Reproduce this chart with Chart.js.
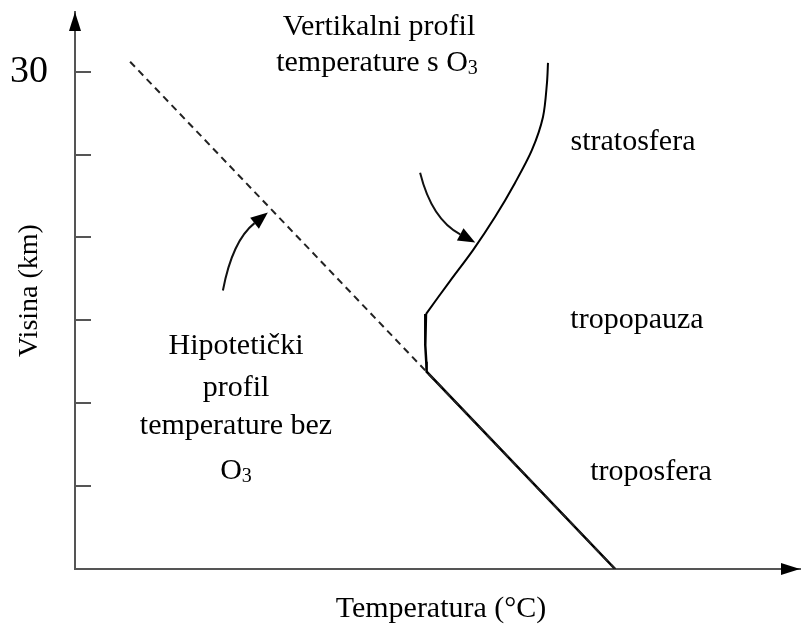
<!DOCTYPE html>
<html>
<head>
<meta charset="utf-8">
<script src="https://cdn.jsdelivr.net/npm/chart.js@4"></script>
<style>
  html, body { margin: 0; padding: 0; background: #fff; }
  #wrap { width: 801px; height: 626px; }
</style>
</head>
<body>
<div id="wrap"><canvas id="profileChart" width="801" height="626"></canvas></div>
<script>
// Podaci (procjena s originalne slike), x = temperatura (proizvoljne jedinice), y = visina (km)
const hypoTemp = [7.6, 74.5];
const hypoAlt = [30.6, 0];

const stratoTemp = [65.24, 65.1, 64.55, 63.03, 60.69, 57.93, 54.9, 51.72, 48.41];
const stratoAlt = [30.53, 29.33, 27.27, 25.28, 23.29, 21.23, 19.24, 17.37, 15.38];

const tropoTemp = [48.41, 48.28, 48.35, 48.45, 48.5, 74.5];
const tropoAlt = [15.38, 15.1, 13.5, 12.5, 11.9, 0];

const altTicks = [5, 10, 15, 20, 25, 30];
const altLabels = { 30: '30' };

const serif = '"Liberation Serif", "Times New Roman", serif';

function toPoints(xs, ys) {
    return xs.map((x, i) => ({ x: x, y: ys[i] }));
}

// Strelice (u koordinatama podataka) - rep, kontrolna tocka, vrh
const arrows = [
    [[20.4, 16.8], [21.7, 19.8], [26.6, 21.5]],
    [[47.6, 23.9], [49.2, 21.1], [55.2, 19.7]]
];

function drawText(ctx, parts, cx, baseline) {
    // parts: [tekst, jeSubscript]
    let total = 0;
    parts.forEach(p => {
        ctx.font = (p[1] ? '20px ' : '30px ') + serif;
        total += ctx.measureText(p[0]).width;
    });
    let x = cx - total / 2;
    ctx.textAlign = 'left';
    ctx.textBaseline = 'alphabetic';
    parts.forEach(p => {
        ctx.font = (p[1] ? '20px ' : '30px ') + serif;
        ctx.fillText(p[0], x, baseline + (p[1] ? 3 : 0));
        x += ctx.measureText(p[0]).width;
    });
}

const decorations = {
    id: 'decorations',
    afterDraw(chart) {
        const ctx = chart.ctx;
        const xs = chart.scales.x;
        const ys = chart.scales.y;
        const area = chart.chartArea;
        ctx.save();

        // kvacice na osi y (prema unutra)
        ctx.strokeStyle = '#555';
        ctx.lineWidth = 2;
        altTicks.forEach(v => {
            const py = Math.round(ys.getPixelForValue(v));
            ctx.beginPath();
            ctx.moveTo(area.left, py);
            ctx.lineTo(area.left + 16, py);
            ctx.stroke();
        });

        // vrhovi strelica na osima
        ctx.fillStyle = '#000';
        ctx.beginPath();
        ctx.moveTo(area.left, area.top);
        ctx.lineTo(area.left - 6, area.top + 19);
        ctx.lineTo(area.left + 6, area.top + 19);
        ctx.closePath();
        ctx.fill();
        ctx.beginPath();
        ctx.moveTo(area.right, area.bottom);
        ctx.lineTo(area.right - 19, area.bottom - 6);
        ctx.lineTo(area.right - 19, area.bottom + 6);
        ctx.closePath();
        ctx.fill();

        // zakrivljene strelice
        ctx.strokeStyle = '#111';
        ctx.lineWidth = 2;
        arrows.forEach(a => {
            const p = a.map(q => [xs.getPixelForValue(q[0]), ys.getPixelForValue(q[1])]);
            const dx = p[2][0] - p[1][0], dy = p[2][1] - p[1][1];
            const len = Math.hypot(dx, dy);
            const ux = dx / len, uy = dy / len;
            const bx = p[2][0] - ux * 17, by = p[2][1] - uy * 17;
            ctx.beginPath();
            ctx.moveTo(p[0][0], p[0][1]);
            ctx.quadraticCurveTo(p[1][0], p[1][1], bx, by);
            ctx.stroke();
            ctx.beginPath();
            ctx.moveTo(p[2][0], p[2][1]);
            ctx.lineTo(bx - uy * 7, by + ux * 7);
            ctx.lineTo(bx + uy * 7, by - ux * 7);
            ctx.closePath();
            ctx.fill();
        });

        // tekstovi
        ctx.fillStyle = '#000';
        drawText(ctx, [['Vertikalni profil', false]], 379, 35);
        drawText(ctx, [['temperature s O', false], ['3', true]], 377, 71);
        drawText(ctx, [['stratosfera', false]], 633, 150);
        drawText(ctx, [['tropopauza', false]], 637, 328);
        drawText(ctx, [['troposfera', false]], 651, 480);
        drawText(ctx, [['Hipotetički', false]], 236, 354);
        drawText(ctx, [['profil', false]], 236, 396);
        drawText(ctx, [['temperature bez', false]], 236, 434);
        drawText(ctx, [['O', false], ['3', true]], 236, 479);
        drawText(ctx, [['Temperatura (°C)', false]], 441, 617);

        ctx.save();
        ctx.translate(37, (area.top + area.bottom) / 2);
        ctx.rotate(-Math.PI / 2);
        ctx.font = '28px ' + serif;
        ctx.textAlign = 'center';
        ctx.textBaseline = 'alphabetic';
        ctx.fillText('Visina (km)', 0, 0);
        ctx.restore();

        ctx.restore();
    }
};

const ctx = document.getElementById('profileChart').getContext('2d');
new Chart(ctx, {
    type: 'line',
    data: {
        datasets: [
            {
                label: 'Hipotetički profil',
                data: toPoints(hypoTemp, hypoAlt),
                borderColor: '#222',
                borderWidth: 2,
                borderDash: [7, 5],
                pointRadius: 0,
                tension: 0
            },
            {
                label: 'Stratosfera',
                data: toPoints(stratoTemp, stratoAlt),
                borderColor: '#000',
                borderWidth: 2,
                pointRadius: 0,
                tension: 0.3
            },
            {
                label: 'Troposfera',
                data: toPoints(tropoTemp, tropoAlt),
                borderColor: '#000',
                borderWidth: 2.5,
                pointRadius: 0,
                tension: 0
            }
        ]
    },
    options: {
        responsive: false,
        animation: false,
        layout: { padding: { top: 12, right: 1, left: 0, bottom: 0 } },
        scales: {
            x: {
                type: 'linear',
                min: 0,
                max: 100,
                ticks: { display: false },
                grid: { display: false },
                border: { display: true, color: '#555', width: 2 },
                afterFit(scale) {
                    scale.height = 57;
                    scale.paddingLeft = 0;
                    scale.paddingRight = 0;
                }
            },
            y: {
                type: 'linear',
                min: 0,
                max: 33.6,
                afterBuildTicks(scale) {
                    scale.ticks = altTicks.map(v => ({ value: v }));
                },
                ticks: {
                    padding: 19,
                    color: '#000',
                    font: { family: serif, size: 38 },
                    callback: v => altLabels[v] || ''
                },
                grid: { display: false },
                border: { display: true, color: '#555', width: 2 },
                afterFit(scale) {
                    scale.width = 75;
                    scale.paddingTop = 0;
                    scale.paddingBottom = 0;
                }
            }
        },
        plugins: {
            legend: { display: false },
            tooltip: { enabled: false }
        }
    },
    plugins: [decorations]
});
</script>
</body>
</html>
